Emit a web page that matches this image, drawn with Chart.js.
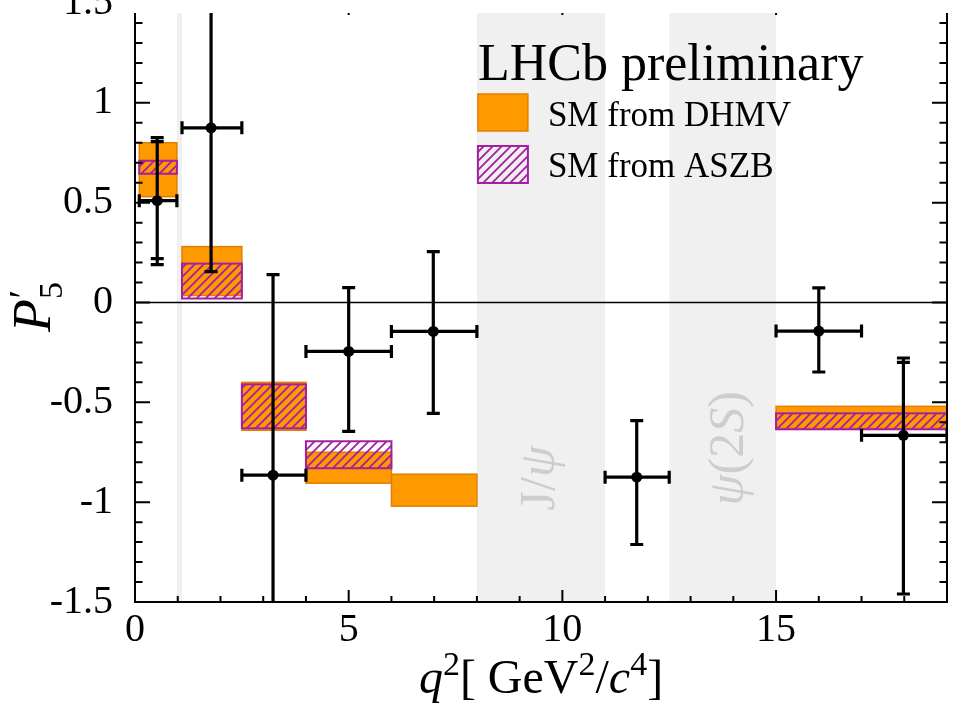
<!DOCTYPE html>
<html>
<head>
<meta charset="utf-8">
<title>P5' vs q2</title>
<script src="https://cdn.jsdelivr.net/npm/chart.js@4.4.1/dist/chart.umd.min.js"></script>
<style>
  body { margin: 0; background: #fff; }
  #wrap { width: 958px; height: 707px; }
</style>
</head>
<body>
<div id="wrap"><canvas id="myChart"></canvas></div>
<script>
// measured P5' in bins of q2
const qLow     = [0.10, 1.10, 2.50, 4.00, 6.00, 11.00, 15.00, 17.00];
const qHigh    = [0.98, 2.50, 4.00, 6.00, 8.00, 12.50, 17.00, 19.00];
const qMean    = [0.52, 1.78, 3.23, 5.00, 6.98, 11.74, 16.00, 17.98];
const p5       = [0.51, 0.875, -0.865, -0.245, -0.145, -0.875, -0.143, -0.665];
const statUp   = [0.296, 0.72, 1.005, 0.32, 0.40, 0.283, 0.216, 0.365];
const statDown = [0.29, 0.72, 1.005, 0.40, 0.41, 0.337, 0.205, 0.795];
const totUp    = [0.316, 0.72, 1.005, 0.32, 0.40, 0.283, 0.216, 0.387];
const totDown  = [0.32, 0.72, 1.005, 0.40, 0.41, 0.337, 0.205, 0.795];

// SM from DHMV
const dhmvLow  = [0.10, 1.10, 2.50, 4.00, 6.00, 15.00];
const dhmvHigh = [0.98, 2.50, 4.00, 6.00, 8.00, 19.00];
const dhmvMin  = [0.53, 0.035, -0.64, -0.905, -1.02, -0.63];
const dhmvMax  = [0.80, 0.28, -0.40, -0.75, -0.86, -0.52];

// SM from ASZB
const aszbLow  = [0.10, 1.10, 2.50, 4.00, 15.00];
const aszbHigh = [0.98, 2.50, 4.00, 6.00, 19.00];
const aszbMin  = [0.645, 0.02, -0.63, -0.83, -0.635];
const aszbMax  = [0.71, 0.195, -0.41, -0.695, -0.555];

// charmonium vetoes
const vetoLow  = [0.98, 8.0, 12.5];
const vetoHigh = [1.10, 11.0, 15.0];
const vetoName = ['', 'J/ψ', 'ψ(2S)'];

const xTicks = [0, 5, 10, 15];
const yTicks = [-1.5, -1, -0.5, 0, 0.5, 1, 1.5];

const SERIF = '"Liberation Serif", "DejaVu Serif", serif';
const ORANGE = '#ff9900';
const ORANGE_EDGE = '#e27f00';
const MAGENTA = '#a31fa3';

// diagonal hatch tile for the ASZB boxes
const hatchTile = (function () {
  const c = document.createElement('canvas');
  c.width = 9; c.height = 9;
  const g = c.getContext('2d');
  g.strokeStyle = MAGENTA;
  g.lineWidth = 1.8;
  g.beginPath();
  g.moveTo(-1, 10); g.lineTo(10, -1);
  g.moveTo(-1, 1); g.lineTo(1, -1);
  g.moveTo(8, 10); g.lineTo(10, 8);
  g.stroke();
  return c;
})();

// text made of runs: [text, style] with style n / i / sup / sub
function runFont(style, size) {
  if (style === 'i') return 'italic ' + size + 'px ' + SERIF;
  if (style === 'sup' || style === 'sub') return Math.round(size * 0.7) + 'px ' + SERIF;
  return size + 'px ' + SERIF;
}
function richWidth(ctx, runs, size) {
  let w = 0;
  runs.forEach(r => { ctx.font = runFont(r[1], size); w += ctx.measureText(r[0]).width; });
  return w;
}
function drawRich(ctx, runs, x, y, size) {
  let cx = x;
  runs.forEach(r => {
    ctx.font = runFont(r[1], size);
    let dy = 0;
    if (r[1] === 'sup') dy = -size * 0.38;
    if (r[1] === 'sub') dy = size * 0.22;
    ctx.fillText(r[0], cx, y + dy);
    cx += ctx.measureText(r[0]).width;
  });
}

function rect(xs, ys, lo, hi, ymin, ymax) {
  const l = xs.getPixelForValue(lo), r = xs.getPixelForValue(hi);
  const t = ys.getPixelForValue(ymax), b = ys.getPixelForValue(ymin);
  return [l, t, r - l, b - t];
}

const underlay = {
  id: 'underlay',
  beforeDatasetsDraw(chart) {
    const ctx = chart.ctx, ca = chart.chartArea;
    const xs = chart.scales.x, ys = chart.scales.y;
    ctx.save();
    ctx.beginPath();
    ctx.rect(ca.left, ca.top, ca.right - ca.left, ca.bottom - ca.top);
    ctx.clip();

    // veto bands
    ctx.fillStyle = '#f0f0f0';
    for (let i = 0; i < vetoLow.length; i++) {
      const l = xs.getPixelForValue(vetoLow[i]), r = xs.getPixelForValue(vetoHigh[i]);
      ctx.fillRect(l, ca.top, r - l, ca.bottom - ca.top);
    }
    const labelY = [0, -0.88, -0.73];
    ctx.fillStyle = '#cdcdcd';
    ctx.textBaseline = 'middle';
    for (let i = 0; i < vetoLow.length; i++) {
      if (!vetoName[i]) continue;
      const runs = vetoName[i] === 'J/ψ' ? [['J/', 'n'], ['ψ', 'i']] : [['ψ', 'i'], ['(2', 'n'], ['S', 'i'], [')', 'n']];
      const w = richWidth(ctx, runs, 50);
      ctx.save();
      ctx.translate(xs.getPixelForValue((vetoLow[i] + vetoHigh[i]) / 2 + (i === 2 ? 0.18 : 0)), ys.getPixelForValue(labelY[i]));
      ctx.rotate(-Math.PI / 2);
      drawRich(ctx, runs, -w / 2, 0, 50);
      ctx.restore();
    }

    // DHMV boxes
    ctx.fillStyle = ORANGE;
    ctx.strokeStyle = ORANGE_EDGE;
    ctx.lineWidth = 1.5;
    for (let i = 0; i < dhmvLow.length; i++) {
      const b = rect(xs, ys, dhmvLow[i], dhmvHigh[i], dhmvMin[i], dhmvMax[i]);
      ctx.fillRect(b[0], b[1], b[2], b[3]);
      ctx.strokeRect(b[0], b[1], b[2], b[3]);
    }

    // ASZB boxes
    ctx.fillStyle = ctx.createPattern(hatchTile, 'repeat');
    ctx.strokeStyle = MAGENTA;
    ctx.lineWidth = 2;
    for (let i = 0; i < aszbLow.length; i++) {
      const b = rect(xs, ys, aszbLow[i], aszbHigh[i], aszbMin[i], aszbMax[i]);
      ctx.fillRect(b[0], b[1], b[2], b[3]);
      ctx.strokeRect(b[0], b[1], b[2], b[3]);
    }

    // zero line
    const y0 = ys.getPixelForValue(0);
    ctx.strokeStyle = '#000';
    ctx.lineWidth = 1.5;
    ctx.beginPath();
    ctx.moveTo(ca.left, y0); ctx.lineTo(ca.right, y0);
    ctx.stroke();

    // error bars
    ctx.lineWidth = 3.2;
    ctx.lineCap = 'butt';
    const cap = 6.5;
    for (let i = 0; i < p5.length; i++) {
      const px = xs.getPixelForValue(qMean[i]), py = ys.getPixelForValue(p5[i]);
      const xl = xs.getPixelForValue(qLow[i]), xr = xs.getPixelForValue(qHigh[i]);
      ctx.beginPath();
      ctx.moveTo(px, ys.getPixelForValue(p5[i] + totUp[i]));
      ctx.lineTo(px, ys.getPixelForValue(p5[i] - totDown[i]));
      ctx.moveTo(xl, py); ctx.lineTo(xr, py);
      [p5[i] + totUp[i], p5[i] - totDown[i], p5[i] + statUp[i], p5[i] - statDown[i]].forEach(v => {
        const yy = ys.getPixelForValue(v);
        ctx.moveTo(px - cap, yy); ctx.lineTo(px + cap, yy);
      });
      [xl, xr].forEach(xx => { ctx.moveTo(xx, py - cap); ctx.lineTo(xx, py + cap); });
      ctx.stroke();
    }
    ctx.restore();
  }
};

const overlay = {
  id: 'overlay',
  afterDraw(chart) {
    const ctx = chart.ctx, ca = chart.chartArea;
    const xs = chart.scales.x, ys = chart.scales.y;
    const top = ys.getPixelForValue(yTicks[yTicks.length - 1]);

    // frame with inward ticks, cut at the top of the visible area
    ctx.save();
    ctx.beginPath();
    ctx.rect(ca.left - 3, ca.top, ca.right - ca.left + 6, ca.bottom - ca.top + 3);
    ctx.clip();
    ctx.strokeStyle = '#000';
    ctx.lineWidth = 2;
    ctx.strokeRect(ca.left, top, ca.right - ca.left, ca.bottom - top);
    ctx.beginPath();
    for (let k = -15; k <= 15; k++) {
      const v = k / 10, yy = ys.getPixelForValue(v);
      const len = k % 5 === 0 ? 15 : 7.5;
      ctx.moveTo(ca.left, yy); ctx.lineTo(ca.left + len, yy);
      ctx.moveTo(ca.right, yy); ctx.lineTo(ca.right - len, yy);
    }
    for (let k = 0; k <= 19; k++) {
      const xx = xs.getPixelForValue(k);
      const len = k % 5 === 0 ? 12 : 6;
      ctx.moveTo(xx, ca.bottom); ctx.lineTo(xx, ca.bottom - len);
      ctx.moveTo(xx, top); ctx.lineTo(xx, top + len);
    }
    ctx.stroke();
    ctx.restore();

    ctx.save();
    ctx.fillStyle = '#000';
    ctx.textBaseline = 'alphabetic';

    // legend
    const lx = xs.getPixelForValue(8.0) + 1;
    ctx.font = '52px ' + SERIF;
    ctx.fillText('LHCb preliminary', lx, ca.top + 67);
    ctx.fillStyle = ORANGE;
    ctx.strokeStyle = ORANGE_EDGE;
    ctx.lineWidth = 1.5;
    ctx.fillRect(lx, ca.top + 81, 50, 37);
    ctx.strokeRect(lx, ca.top + 81, 50, 37);
    ctx.fillStyle = ctx.createPattern(hatchTile, 'repeat');
    ctx.strokeStyle = MAGENTA;
    ctx.lineWidth = 2;
    ctx.fillRect(lx, ca.top + 133, 50, 37);
    ctx.strokeRect(lx, ca.top + 133, 50, 37);
    ctx.fillStyle = '#000';
    ctx.font = '35px ' + SERIF;
    ctx.fillText('SM from DHMV', lx + 70, ca.top + 113);
    ctx.fillText('SM from ASZB', lx + 70, ca.top + 164);

    // x axis title
    const xRuns = [['q', 'i'], ['2', 'sup'], ['[ GeV', 'n'], ['2', 'sup'], ['/', 'n'], ['c', 'i'], ['4', 'sup'], [']', 'n']];
    const xw = richWidth(ctx, xRuns, 48);
    drawRich(ctx, xRuns, (ca.left + ca.right) / 2 - xw / 2, ca.bottom + 91, 48);

    // y axis title, P'_5
    ctx.translate(40, (ca.top + ca.bottom) / 2);
    ctx.rotate(-Math.PI / 2);
    ctx.font = 'italic 54px ' + SERIF;
    const wP = ctx.measureText('P').width;
    const x0 = -(wP + 16) / 2;
    ctx.fillText('P', x0, 10);
    ctx.font = 'italic 40px ' + SERIF;
    ctx.fillText('′', x0 + wP - 2, -4);
    ctx.font = '34px ' + SERIF;
    ctx.fillText('5', x0 + wP, 22);
    ctx.restore();
  }
};

const tickFont = { family: SERIF, size: 40 };

const ctx = document.getElementById('myChart').getContext('2d');
const myChart = new Chart(ctx, {
  type: 'scatter',
  data: {
    datasets: [{
      label: 'LHCb',
      data: qMean.map((q, i) => ({ x: q, y: p5[i] })),
      pointRadius: 5.5,
      pointHoverRadius: 5.5,
      pointBackgroundColor: '#000',
      pointBorderWidth: 0
    }]
  },
  options: {
    responsive: true,
    maintainAspectRatio: false,
    animation: false,
    devicePixelRatio: 1,
    events: [],
    layout: { padding: { top: 13, right: 11, left: 0, bottom: 0 } },
    plugins: {
      legend: { display: false },
      tooltip: { enabled: false }
    },
    scales: {
      x: {
        type: 'linear',
        min: 0,
        max: 19,
        grid: { display: false, drawTicks: false },
        border: { display: false },
        afterBuildTicks: axis => { axis.ticks = xTicks.map(v => ({ value: v })); },
        afterFit: scale => { scale.height = 105; scale.paddingLeft = 0; scale.paddingRight = 0; },
        ticks: { font: tickFont, color: '#000', padding: 4, maxRotation: 0, autoSkip: false, callback: v => String(v) }
      },
      y: {
        type: 'linear',
        min: -1.5,
        max: 1.45,
        grid: { display: false, drawTicks: false },
        border: { display: false },
        afterBuildTicks: axis => { axis.ticks = yTicks.map(v => ({ value: v })); },
        afterFit: scale => { scale.width = 135; scale.paddingTop = 0; scale.paddingBottom = 0; },
        ticks: { font: tickFont, color: '#000', padding: 22, autoSkip: false, callback: v => String(v) }
      }
    }
  },
  plugins: [underlay, overlay]
});
</script>
</body>
</html>
